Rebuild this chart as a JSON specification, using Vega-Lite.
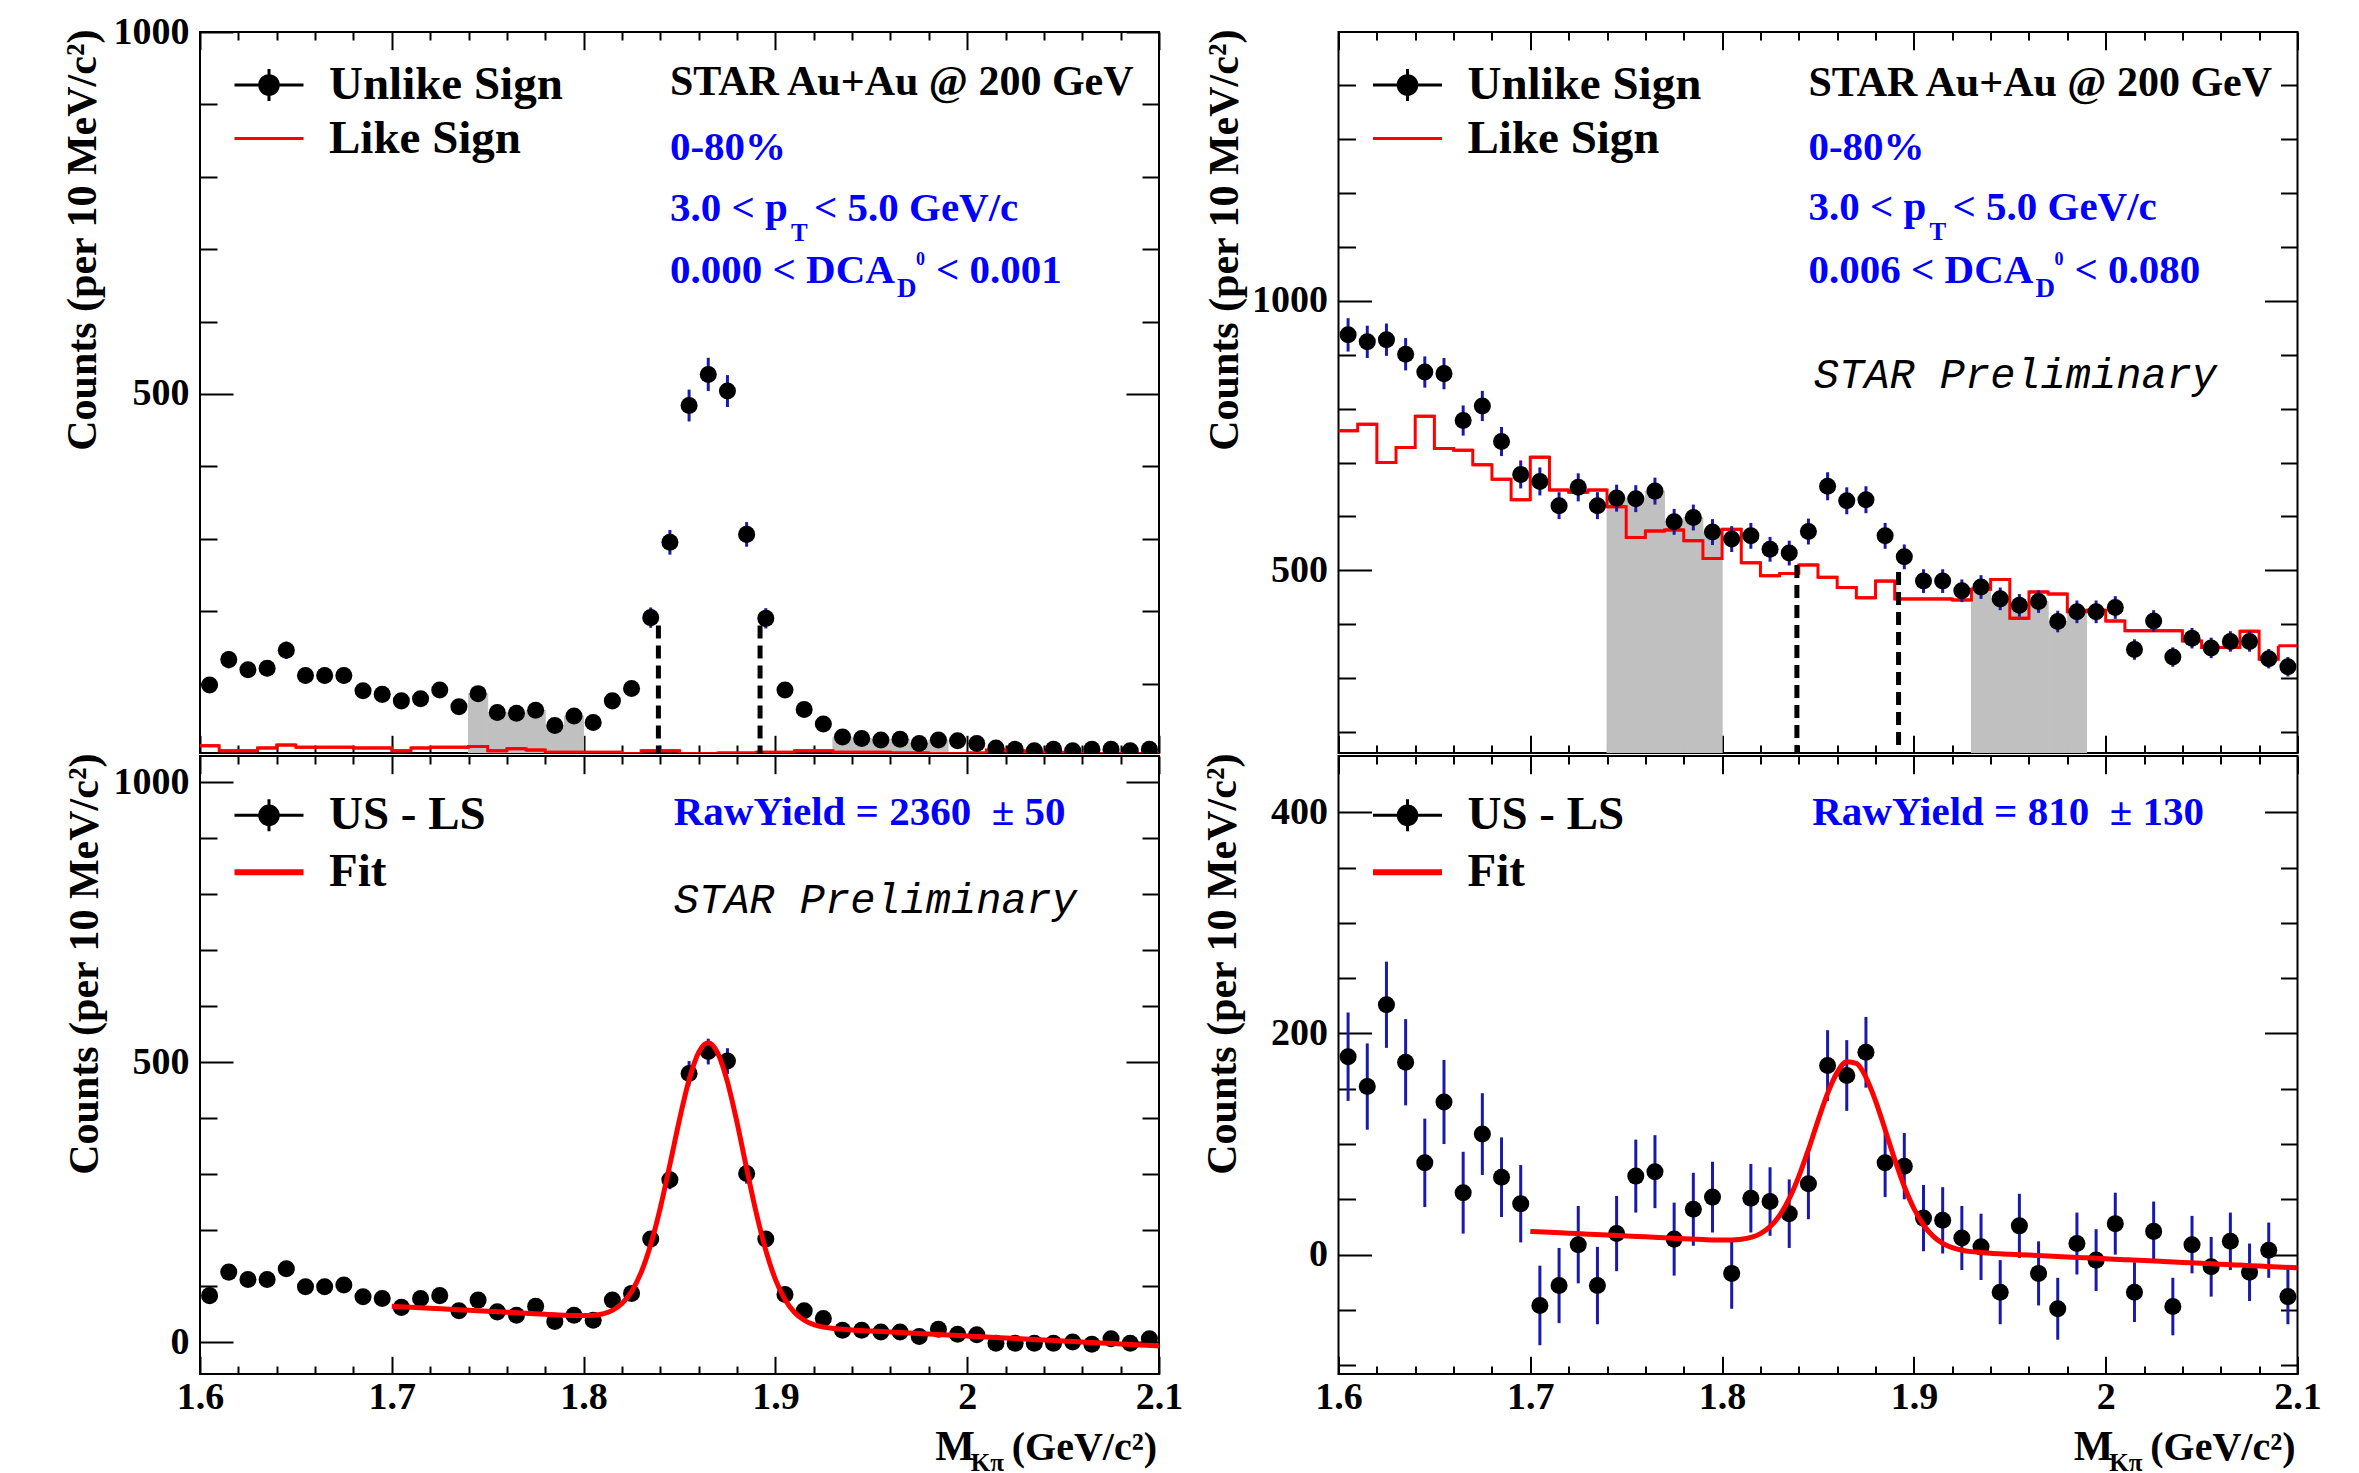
{
"$schema": "https://vega.github.io/schema/vega-lite/v6.json",
"background": "white",
"padding": {"left": 59, "top": 12, "right": 0, "bottom": 0},
"datasets": {
"tl": [
{"lo":1.60,"hi":1.61,"m":1.605,"us":98,"e":10,"ls":14},
{"lo":1.61,"hi":1.62,"m":1.615,"us":133,"e":12,"ls":7},
{"lo":1.62,"hi":1.63,"m":1.625,"us":119,"e":11,"ls":7},
{"lo":1.63,"hi":1.64,"m":1.635,"us":121,"e":11,"ls":11},
{"lo":1.64,"hi":1.65,"m":1.645,"us":146,"e":12,"ls":15},
{"lo":1.65,"hi":1.66,"m":1.655,"us":111,"e":11,"ls":12},
{"lo":1.66,"hi":1.67,"m":1.665,"us":111,"e":11,"ls":12},
{"lo":1.67,"hi":1.68,"m":1.675,"us":111,"e":11,"ls":12},
{"lo":1.68,"hi":1.69,"m":1.685,"us":90,"e":9,"ls":11},
{"lo":1.69,"hi":1.70,"m":1.695,"us":85,"e":9,"ls":11},
{"lo":1.70,"hi":1.71,"m":1.705,"us":76,"e":9,"ls":7},
{"lo":1.71,"hi":1.72,"m":1.715,"us":79,"e":9,"ls":11},
{"lo":1.72,"hi":1.73,"m":1.725,"us":91,"e":10,"ls":12},
{"lo":1.73,"hi":1.74,"m":1.735,"us":68,"e":8,"ls":12},
{"lo":1.74,"hi":1.75,"m":1.745,"us":86,"e":9,"ls":13},
{"lo":1.75,"hi":1.76,"m":1.755,"us":60,"e":8,"ls":7},
{"lo":1.76,"hi":1.77,"m":1.765,"us":59,"e":8,"ls":10},
{"lo":1.77,"hi":1.78,"m":1.775,"us":63,"e":8,"ls":8},
{"lo":1.78,"hi":1.79,"m":1.785,"us":42,"e":6,"ls":5},
{"lo":1.79,"hi":1.80,"m":1.795,"us":55,"e":7,"ls":5},
{"lo":1.80,"hi":1.81,"m":1.805,"us":46,"e":7,"ls":5},
{"lo":1.81,"hi":1.82,"m":1.815,"us":76,"e":9,"ls":5},
{"lo":1.82,"hi":1.83,"m":1.825,"us":93,"e":10,"ls":3},
{"lo":1.83,"hi":1.84,"m":1.835,"us":191,"e":14,"ls":7},
{"lo":1.84,"hi":1.85,"m":1.845,"us":295,"e":17,"ls":7},
{"lo":1.85,"hi":1.86,"m":1.855,"us":484,"e":22,"ls":3},
{"lo":1.86,"hi":1.87,"m":1.865,"us":527,"e":23,"ls":3},
{"lo":1.87,"hi":1.88,"m":1.875,"us":504,"e":22,"ls":4},
{"lo":1.88,"hi":1.89,"m":1.885,"us":306,"e":17,"ls":4},
{"lo":1.89,"hi":1.90,"m":1.895,"us":190,"e":14,"ls":5},
{"lo":1.90,"hi":1.91,"m":1.905,"us":91,"e":10,"ls":5},
{"lo":1.91,"hi":1.92,"m":1.915,"us":64,"e":8,"ls":7},
{"lo":1.92,"hi":1.93,"m":1.925,"us":44,"e":7,"ls":7},
{"lo":1.93,"hi":1.94,"m":1.935,"us":26,"e":5,"ls":5},
{"lo":1.94,"hi":1.95,"m":1.945,"us":24,"e":5,"ls":5},
{"lo":1.95,"hi":1.96,"m":1.955,"us":22,"e":5,"ls":5},
{"lo":1.96,"hi":1.97,"m":1.965,"us":23,"e":5,"ls":4},
{"lo":1.97,"hi":1.98,"m":1.975,"us":17,"e":4,"ls":4},
{"lo":1.98,"hi":1.99,"m":1.985,"us":22,"e":5,"ls":3},
{"lo":1.99,"hi":2.00,"m":1.995,"us":21,"e":5,"ls":3},
{"lo":2.00,"hi":2.01,"m":2.005,"us":17,"e":4,"ls":4},
{"lo":2.01,"hi":2.02,"m":2.015,"us":11,"e":3,"ls":8},
{"lo":2.02,"hi":2.03,"m":2.025,"us":9,"e":3,"ls":7},
{"lo":2.03,"hi":2.04,"m":2.035,"us":7,"e":3,"ls":5},
{"lo":2.04,"hi":2.05,"m":2.045,"us":9,"e":3,"ls":5},
{"lo":2.05,"hi":2.06,"m":2.055,"us":7,"e":3,"ls":3},
{"lo":2.06,"hi":2.07,"m":2.065,"us":9,"e":3,"ls":3},
{"lo":2.07,"hi":2.08,"m":2.075,"us":9,"e":3,"ls":3},
{"lo":2.08,"hi":2.09,"m":2.085,"us":7,"e":3,"ls":3},
{"lo":2.09,"hi":2.10,"m":2.095,"us":9,"e":3,"ls":3}
],
"tr": [
{"lo":1.60,"hi":1.61,"m":1.605,"us":937,"e":31,"ls":759},
{"lo":1.61,"hi":1.62,"m":1.615,"us":924,"e":30,"ls":771},
{"lo":1.62,"hi":1.63,"m":1.625,"us":928,"e":30,"ls":700},
{"lo":1.63,"hi":1.64,"m":1.635,"us":901,"e":30,"ls":728},
{"lo":1.64,"hi":1.65,"m":1.645,"us":868,"e":29,"ls":786},
{"lo":1.65,"hi":1.66,"m":1.655,"us":865,"e":29,"ls":726},
{"lo":1.66,"hi":1.67,"m":1.665,"us":778,"e":28,"ls":723},
{"lo":1.67,"hi":1.68,"m":1.675,"us":805,"e":28,"ls":696},
{"lo":1.68,"hi":1.69,"m":1.685,"us":739,"e":27,"ls":669},
{"lo":1.69,"hi":1.70,"m":1.695,"us":678,"e":26,"ls":631},
{"lo":1.70,"hi":1.71,"m":1.705,"us":665,"e":26,"ls":710},
{"lo":1.71,"hi":1.72,"m":1.715,"us":620,"e":25,"ls":649},
{"lo":1.72,"hi":1.73,"m":1.725,"us":654,"e":26,"ls":645},
{"lo":1.73,"hi":1.74,"m":1.735,"us":620,"e":25,"ls":649},
{"lo":1.74,"hi":1.75,"m":1.745,"us":634,"e":25,"ls":618},
{"lo":1.75,"hi":1.76,"m":1.755,"us":633,"e":25,"ls":561},
{"lo":1.76,"hi":1.77,"m":1.765,"us":647,"e":25,"ls":573},
{"lo":1.77,"hi":1.78,"m":1.775,"us":590,"e":24,"ls":575},
{"lo":1.78,"hi":1.79,"m":1.785,"us":598,"e":24,"ls":555},
{"lo":1.79,"hi":1.80,"m":1.795,"us":571,"e":24,"ls":522},
{"lo":1.80,"hi":1.81,"m":1.805,"us":558,"e":24,"ls":576},
{"lo":1.81,"hi":1.82,"m":1.815,"us":564,"e":24,"ls":514},
{"lo":1.82,"hi":1.83,"m":1.825,"us":539,"e":23,"ls":490},
{"lo":1.83,"hi":1.84,"m":1.835,"us":532,"e":23,"ls":494},
{"lo":1.84,"hi":1.85,"m":1.845,"us":572,"e":24,"ls":510},
{"lo":1.85,"hi":1.86,"m":1.855,"us":656,"e":26,"ls":487},
{"lo":1.86,"hi":1.87,"m":1.865,"us":629,"e":25,"ls":468},
{"lo":1.87,"hi":1.88,"m":1.875,"us":631,"e":25,"ls":449},
{"lo":1.88,"hi":1.89,"m":1.885,"us":564,"e":24,"ls":480},
{"lo":1.89,"hi":1.90,"m":1.895,"us":525,"e":23,"ls":447},
{"lo":1.90,"hi":1.91,"m":1.905,"us":480,"e":22,"ls":447},
{"lo":1.91,"hi":1.92,"m":1.915,"us":480,"e":22,"ls":447},
{"lo":1.92,"hi":1.93,"m":1.925,"us":462,"e":21,"ls":445},
{"lo":1.93,"hi":1.94,"m":1.935,"us":469,"e":22,"ls":465},
{"lo":1.94,"hi":1.95,"m":1.945,"us":447,"e":21,"ls":483},
{"lo":1.95,"hi":1.96,"m":1.955,"us":435,"e":21,"ls":411},
{"lo":1.96,"hi":1.97,"m":1.965,"us":442,"e":21,"ls":460},
{"lo":1.97,"hi":1.98,"m":1.975,"us":405,"e":20,"ls":456},
{"lo":1.98,"hi":1.99,"m":1.985,"us":423,"e":21,"ls":423},
{"lo":1.99,"hi":2.00,"m":1.995,"us":423,"e":21,"ls":426},
{"lo":2.00,"hi":2.01,"m":2.005,"us":431,"e":21,"ls":406},
{"lo":2.01,"hi":2.02,"m":2.015,"us":353,"e":19,"ls":388},
{"lo":2.02,"hi":2.03,"m":2.025,"us":406,"e":20,"ls":388},
{"lo":2.03,"hi":2.04,"m":2.035,"us":339,"e":18,"ls":388},
{"lo":2.04,"hi":2.05,"m":2.045,"us":374,"e":19,"ls":369},
{"lo":2.05,"hi":2.06,"m":2.055,"us":356,"e":19,"ls":357},
{"lo":2.06,"hi":2.07,"m":2.065,"us":368,"e":19,"ls":357},
{"lo":2.07,"hi":2.08,"m":2.075,"us":368,"e":19,"ls":387},
{"lo":2.08,"hi":2.09,"m":2.085,"us":336,"e":18,"ls":335},
{"lo":2.09,"hi":2.10,"m":2.095,"us":321,"e":18,"ls":360}
],
"bl": [
{"m":1.605,"v":83,"e":10},{"m":1.615,"v":125,"e":12},{"m":1.625,"v":112,"e":11},{"m":1.635,"v":112,"e":11},{"m":1.645,"v":131,"e":13},
{"m":1.655,"v":99,"e":11},{"m":1.665,"v":99,"e":11},{"m":1.675,"v":102,"e":11},{"m":1.685,"v":81,"e":10},{"m":1.695,"v":78,"e":10},
{"m":1.705,"v":62,"e":9},{"m":1.715,"v":78,"e":10},{"m":1.725,"v":83,"e":10},{"m":1.735,"v":56,"e":9},{"m":1.745,"v":75,"e":10},
{"m":1.755,"v":54,"e":8},{"m":1.765,"v":48,"e":8},{"m":1.775,"v":64,"e":8},{"m":1.785,"v":37,"e":7},{"m":1.795,"v":48,"e":8},
{"m":1.805,"v":39,"e":7},{"m":1.815,"v":75,"e":9},{"m":1.825,"v":87,"e":10},{"m":1.835,"v":184,"e":14},{"m":1.845,"v":290,"e":17},
{"m":1.855,"v":480,"e":22},{"m":1.865,"v":519,"e":23},{"m":1.875,"v":502,"e":23},{"m":1.885,"v":301,"e":18},{"m":1.895,"v":184,"e":14},
{"m":1.905,"v":85,"e":10},{"m":1.915,"v":56,"e":9},{"m":1.925,"v":42,"e":7},{"m":1.935,"v":21,"e":6},{"m":1.945,"v":21,"e":6},
{"m":1.955,"v":18,"e":5},{"m":1.965,"v":18,"e":5},{"m":1.975,"v":10,"e":5},{"m":1.985,"v":23,"e":5},{"m":1.995,"v":14,"e":5},
{"m":2.005,"v":13,"e":5},{"m":2.015,"v":-2,"e":4},{"m":2.025,"v":-2,"e":4},{"m":2.035,"v":-2,"e":4},{"m":2.045,"v":-2,"e":4},
{"m":2.055,"v":0,"e":4},{"m":2.065,"v":-4,"e":4},{"m":2.075,"v":6,"e":4},{"m":2.085,"v":-2,"e":4},{"m":2.095,"v":6,"e":4}
],
"br": [
{"m":1.605,"v":179,"e":40},{"m":1.615,"v":152,"e":39},{"m":1.625,"v":226,"e":39},{"m":1.635,"v":174,"e":39},{"m":1.645,"v":83,"e":40},
{"m":1.655,"v":138,"e":38},{"m":1.665,"v":56,"e":37},{"m":1.675,"v":109,"e":37},{"m":1.685,"v":70,"e":36},{"m":1.695,"v":46,"e":35},
{"m":1.705,"v":-46,"e":36},{"m":1.715,"v":-28,"e":34},{"m":1.725,"v":9,"e":35},{"m":1.735,"v":-28,"e":35},{"m":1.745,"v":19,"e":34},
{"m":1.755,"v":71,"e":33},{"m":1.765,"v":75,"e":33},{"m":1.775,"v":14,"e":33},{"m":1.785,"v":41,"e":33},{"m":1.795,"v":52,"e":32},
{"m":1.805,"v":-17,"e":32},{"m":1.815,"v":51,"e":31},{"m":1.825,"v":48,"e":31},{"m":1.835,"v":37,"e":31},{"m":1.845,"v":64,"e":32},
{"m":1.855,"v":171,"e":32},{"m":1.865,"v":162,"e":32},{"m":1.875,"v":183,"e":32},{"m":1.885,"v":83,"e":31},{"m":1.895,"v":80,"e":30},
{"m":1.905,"v":33,"e":30},{"m":1.915,"v":31,"e":30},{"m":1.925,"v":15,"e":29},{"m":1.935,"v":7,"e":30},{"m":1.945,"v":-34,"e":29},
{"m":1.955,"v":26,"e":29},{"m":1.965,"v":-17,"e":29},{"m":1.975,"v":-49,"e":28},{"m":1.985,"v":10,"e":28},{"m":1.995,"v":-5,"e":28},
{"m":2.005,"v":28,"e":28},{"m":2.015,"v":-34,"e":27},{"m":2.025,"v":21,"e":27},{"m":2.035,"v":-47,"e":26},{"m":2.045,"v":9,"e":26},
{"m":2.055,"v":-11,"e":27},{"m":2.065,"v":12,"e":26},{"m":2.075,"v":-16,"e":26},{"m":2.085,"v":4,"e":25},{"m":2.095,"v":-38,"e":25}
],
"blfit": [
{"m":1.70,"f":64.0},{"m":1.71,"f":62.2},{"m":1.72,"f":60.5},{"m":1.73,"f":58.7},{"m":1.74,"f":56.9},{"m":1.75,"f":55.2},{"m":1.76,"f":53.4},{"m":1.77,"f":51.6},{"m":1.78,"f":49.8},{"m":1.79,"f":48.1},
{"m":1.80,"f":47.4},{"m":1.805,"f":48.0},{"m":1.81,"f":50.5},{"m":1.815,"f":56.6},{"m":1.82,"f":68.8},{"m":1.825,"f":90.2},{"m":1.83,"f":124.5},{"m":1.835,"f":174.4},{"m":1.84,"f":239.9},{"m":1.845,"f":317.1},
{"m":1.85,"f":397.5},{"m":1.855,"f":468.6},{"m":1.86,"f":517.7},{"m":1.865,"f":534.8},{"m":1.87,"f":515.9},{"m":1.875,"f":465.0},{"m":1.88,"f":392.2},{"m":1.885,"f":310.1},{"m":1.89,"f":231.1},{"m":1.895,"f":163.8},
{"m":1.90,"f":112.1},{"m":1.905,"f":76.0},{"m":1.91,"f":52.8},{"m":1.915,"f":39.0},{"m":1.92,"f":31.1},{"m":1.925,"f":26.8},{"m":1.93,"f":24.4},{"m":1.935,"f":22.8},{"m":1.94,"f":21.5},{"m":1.95,"f":19.8},
{"m":1.96,"f":18.0},{"m":1.97,"f":16.2},{"m":1.98,"f":14.4},{"m":1.99,"f":12.7},{"m":2.00,"f":10.9},{"m":2.01,"f":9.1},{"m":2.02,"f":7.4},{"m":2.03,"f":5.6},{"m":2.04,"f":3.8},{"m":2.05,"f":2.1},
{"m":2.06,"f":0.3},{"m":2.07,"f":-1.5},{"m":2.08,"f":-3.3},{"m":2.09,"f":-5.0},{"m":2.10,"f":-6.8}
],
"brfit": [
{"m":1.70,"f":21.0},{"m":1.71,"f":20.2},{"m":1.72,"f":19.35},{"m":1.73,"f":18.5},{"m":1.74,"f":17.7},{"m":1.75,"f":16.9},{"m":1.76,"f":16.05},{"m":1.77,"f":15.2},{"m":1.78,"f":14.4},{"m":1.79,"f":13.6},
{"m":1.80,"f":13.1},{"m":1.805,"f":13.1},{"m":1.81,"f":13.8},{"m":1.815,"f":15.5},{"m":1.82,"f":19.0},{"m":1.825,"f":25.3},{"m":1.83,"f":35.5},{"m":1.835,"f":50.6},{"m":1.84,"f":70.7},{"m":1.845,"f":94.9},
{"m":1.85,"f":121.2},{"m":1.855,"f":145.8},{"m":1.86,"f":164.8},{"m":1.865,"f":174.5},{"m":1.87,"f":172.9},{"m":1.875,"f":160.4},{"m":1.88,"f":139.1},{"m":1.885,"f":113.0},{"m":1.89,"f":86.0},{"m":1.895,"f":61.6},
{"m":1.90,"f":41.7},{"m":1.905,"f":26.8},{"m":1.91,"f":16.7},{"m":1.915,"f":10.2},{"m":1.92,"f":6.3},{"m":1.925,"f":4.0},{"m":1.93,"f":2.7},{"m":1.935,"f":1.9},{"m":1.94,"f":1.2},{"m":1.95,"f":0.4},
{"m":1.96,"f":-0.45},{"m":1.97,"f":-1.3},{"m":1.98,"f":-2.1},{"m":1.99,"f":-2.9},{"m":2.00,"f":-3.75},{"m":2.01,"f":-4.6},{"m":2.02,"f":-5.4},{"m":2.03,"f":-6.2},{"m":2.04,"f":-7.05},{"m":2.05,"f":-7.9},
{"m":2.06,"f":-8.7},{"m":2.07,"f":-9.5},{"m":2.08,"f":-10.35},{"m":2.09,"f":-11.2},{"m":2.10,"f":-12.0}
],
"tlcut": [{"m":1.839,"top":180},{"m":1.892,"top":180}],
"trcut": [{"m":1.839,"top":510},{"m":1.892,"top":497}]
},
"columns": 2,
"spacing": {"row": 3, "column": 179.5},
"bounds": "flush",
"align": "each",
"resolve": {"scale": {"color": "independent"}, "legend": {"color": "independent"}},
"concat": [
{
"width": 959, "height": 721,
"data": {"name": "tl"},
"resolve": {"axis": {"x": "independent", "y": "independent"}},
"layer": [
{"layer": [
{"mark": {"type": "point", "opacity": 0},
 "encoding": {
  "x": {"field": "m", "type": "quantitative", "scale": {"domain": [1.6, 2.1], "nice": false, "zero": false},
        "axis": {"orient": "bottom", "values": [1.6,1.7,1.8,1.9,2.0,2.1], "labels": false, "tickSize": -17.7, "title": null}},
  "y": {"field": "us", "type": "quantitative", "title": "Counts (per 10 MeV/c²)", "scale": {"domain": [4, 1000], "nice": false, "zero": false},
        "axis": {"orient": "left", "values": [500, 1000], "tickSize": -33, "labelPadding": 44, "format": "d",
                 "title": "Counts (per 10 MeV/c²)", "titleX": -105, "titleY": -3, "titleAngle": -90, "titleAlign": "right", "titleBaseline": "alphabetic"}}
 }},
{"mark": {"type": "bar", "color": "#c0c0c0", "stroke": "#c0c0c0", "strokeWidth": 1, "clip": true},
 "transform": [{"filter": "(datum.lo > 1.735 && datum.lo < 1.795) || (datum.lo > 1.925 && datum.lo < 1.985)"}],
 "encoding": {"x": {"field": "lo", "type": "quantitative"}, "x2": {"field": "hi"}, "y": {"field": "us", "type": "quantitative", "title": "Counts (per 10 MeV/c²)"}, "y2": {"datum": 0}}},
{"mark": {"type": "rule", "color": "red", "strokeWidth": 3, "clip": true},
 "encoding": {"x": {"field": "lo", "type": "quantitative"}, "x2": {"field": "hi"}, "y": {"field": "ls", "type": "quantitative", "title": "Counts (per 10 MeV/c²)"}}},
{"mark": {"type": "line", "interpolate": "step-after", "strokeWidth": 3, "clip": true},
 "encoding": {"x": {"field": "lo", "type": "quantitative"}, "y": {"field": "ls", "type": "quantitative", "title": "Counts (per 10 MeV/c²)"},
  "color": {"datum": "Like Sign", "scale": {"domain": ["Unlike Sign", "Like Sign"], "range": ["black", "red"]},
   "legend": {"orient": "none", "legendX": 45.5, "legendY": 29.5, "title": null, "padding": 0, "rowPadding": 5.5, "labelFont": "Liberation Serif", "labelFontWeight": "bold", "labelFontSize": 47, "labelColor": "black", "labelOffset": 36.5, "labelLimit": 600, "symbolSize": 900, "symbolStrokeWidth": 3,
    "encode": {"symbols": {"update": {
     "shape": {"signal": "(datum.value === 'Like Sign' || datum.value === 'Fit') ? 'M-2.3,0H2.3' : 'M-2.3,0H-0.62M0.62,0H2.3M0,-1.07V-0.62M0,0.62V1.07M0.62,0A0.62,0.62,0,1,1,-0.62,0A0.62,0.62,0,1,1,0.62,0Z'"},
     "fill": {"signal": "(datum.value === 'Like Sign' || datum.value === 'Fit') ? 'transparent' : 'black'"},
     "stroke": {"signal": "(datum.value === 'Like Sign' || datum.value === 'Fit') ? 'red' : '#1a1aaa'"},
     "strokeWidth": {"signal": "datum.value === 'Fit' ? 6 : 3"},
     "size": {"value": 900}, "opacity": {"value": 1}}}}}}}},
{"data": {"name": "tlcut"}, "mark": {"type": "rule", "color": "black", "strokeWidth": 5, "strokeDash": [13, 7], "clip": true},
 "encoding": {"x": {"field": "m", "type": "quantitative"}, "y": {"field": "top", "type": "quantitative", "title": "Counts (per 10 MeV/c²)"}, "y2": {"datum": 0}}},
{"mark": {"type": "errorbar", "color": "#1a1aaa", "thickness": 3},
 "encoding": {"x": {"field": "m", "type": "quantitative"}, "y": {"field": "us", "type": "quantitative", "title": "Counts (per 10 MeV/c²)"}, "yError": {"field": "e"}}},
{"mark": {"type": "point", "filled": true, "size": 290, "opacity": 1, "clip": true},
 "encoding": {"x": {"field": "m", "type": "quantitative"}, "y": {"field": "us", "type": "quantitative", "title": "Counts (per 10 MeV/c²)"},
  "color": {"datum": "Unlike Sign", "scale": {"domain": ["Unlike Sign", "Like Sign"], "range": ["black", "red"]},
   "legend": {"orient": "none", "legendX": 45.5, "legendY": 29.5, "title": null, "padding": 0, "rowPadding": 5.5, "labelFont": "Liberation Serif", "labelFontWeight": "bold", "labelFontSize": 47, "labelColor": "black", "labelOffset": 36.5, "labelLimit": 600, "symbolSize": 900, "symbolStrokeWidth": 3,
    "encode": {"symbols": {"update": {
     "shape": {"signal": "(datum.value === 'Like Sign' || datum.value === 'Fit') ? 'M-2.3,0H2.3' : 'M-2.3,0H-0.62M0.62,0H2.3M0,-1.07V-0.62M0,0.62V1.07M0.62,0A0.62,0.62,0,1,1,-0.62,0A0.62,0.62,0,1,1,0.62,0Z'"},
     "fill": {"signal": "(datum.value === 'Like Sign' || datum.value === 'Fit') ? 'transparent' : 'black'"},
     "stroke": {"signal": "(datum.value === 'Like Sign' || datum.value === 'Fit') ? 'red' : '#1a1aaa'"},
     "strokeWidth": {"signal": "datum.value === 'Fit' ? 6 : 3"},
     "size": {"value": 900}, "opacity": {"value": 1}}}}}}}},
{"data": {"values": [{}]}, "mark": {"type": "text", "align": "left", "baseline": "alphabetic", "font": "Liberation Serif", "fontWeight": "bold", "fontSize": 42, "color": "black"},
 "encoding": {"x": {"datum": 1.845, "type": "quantitative"}, "y": {"datum": 912.3, "type": "quantitative"}, "text": {"value": "STAR Au+Au @ 200 GeV"}}},
{"data": {"values": [{}]}, "mark": {"type": "text", "align": "left", "baseline": "alphabetic", "font": "Liberation Serif", "fontWeight": "bold", "fontSize": 41, "color": "#0000ff"},
 "encoding": {"x": {"datum": 1.845, "type": "quantitative"}, "y": {"datum": 822.5, "type": "quantitative"}, "text": {"value": "0-80%"}}},
{"data": {"values": [{}]}, "mark": {"type": "text", "align": "left", "baseline": "alphabetic", "font": "Liberation Serif", "fontWeight": "bold", "fontSize": 41, "color": "#0000ff"},
 "encoding": {"x": {"datum": 1.845, "type": "quantitative"}, "y": {"datum": 739.6, "type": "quantitative"}, "text": {"value": "3.0 < p"}}},
{"data": {"values": [{}]}, "mark": {"type": "text", "align": "left", "baseline": "alphabetic", "font": "Liberation Serif", "fontWeight": "bold", "fontSize": 25, "color": "#0000ff", "dx": 121, "dy": 20},
 "encoding": {"x": {"datum": 1.845, "type": "quantitative"}, "y": {"datum": 739.6, "type": "quantitative"}, "text": {"value": "T"}}},
{"data": {"values": [{}]}, "mark": {"type": "text", "align": "left", "baseline": "alphabetic", "font": "Liberation Serif", "fontWeight": "bold", "fontSize": 41, "color": "#0000ff", "dx": 144},
 "encoding": {"x": {"datum": 1.845, "type": "quantitative"}, "y": {"datum": 739.6, "type": "quantitative"}, "text": {"value": "< 5.0 GeV/c"}}},
{"data": {"values": [{}]}, "mark": {"type": "text", "align": "left", "baseline": "alphabetic", "font": "Liberation Serif", "fontWeight": "bold", "fontSize": 41, "color": "#0000ff"},
 "encoding": {"x": {"datum": 1.845, "type": "quantitative"}, "y": {"datum": 652.6, "type": "quantitative"}, "text": {"value": "0.000 < DCA"}}},
{"data": {"values": [{}]}, "mark": {"type": "text", "align": "left", "baseline": "alphabetic", "font": "Liberation Serif", "fontWeight": "bold", "fontSize": 27, "color": "#0000ff", "dx": 227, "dy": 14},
 "encoding": {"x": {"datum": 1.845, "type": "quantitative"}, "y": {"datum": 652.6, "type": "quantitative"}, "text": {"value": "D"}}},
{"data": {"values": [{}]}, "mark": {"type": "text", "align": "left", "baseline": "alphabetic", "font": "Liberation Serif", "fontWeight": "bold", "fontSize": 18, "color": "#0000ff", "dx": 246, "dy": -18},
 "encoding": {"x": {"datum": 1.845, "type": "quantitative"}, "y": {"datum": 652.6, "type": "quantitative"}, "text": {"value": "0"}}},
{"data": {"values": [{}]}, "mark": {"type": "text", "align": "left", "baseline": "alphabetic", "font": "Liberation Serif", "fontWeight": "bold", "fontSize": 41, "color": "#0000ff", "dx": 266},
 "encoding": {"x": {"datum": 1.845, "type": "quantitative"}, "y": {"datum": 652.6, "type": "quantitative"}, "text": {"value": "< 0.001"}}}
]},
{"mark": {"type": "point", "opacity": 0},
 "encoding": {"x": {"field": "m", "type": "quantitative", "scale": {"domain": [1.6, 2.1], "nice": false, "zero": false}, "axis": {"orient": "top", "values": [1.6,1.7,1.8,1.9,2.0,2.1], "labels": false, "tickSize": -17.7, "title": null}},
  "y": {"field": "us", "type": "quantitative", "scale": {"domain": [4, 1000], "nice": false, "zero": false}, "axis": {"orient": "right", "values": [500, 1000], "labels": false, "tickSize": -33, "title": null}}}},
{"mark": {"type": "point", "opacity": 0},
 "encoding": {"x": {"field": "m", "type": "quantitative", "scale": {"domain": [1.6, 2.1], "nice": false, "zero": false}, "axis": {"orient": "bottom", "values": [1.62,1.64,1.66,1.68,1.72,1.74,1.76,1.78,1.82,1.84,1.86,1.88,1.92,1.94,1.96,1.98,2.02,2.04,2.06,2.08], "labels": false, "tickSize": -8, "title": null}},
  "y": {"field": "us", "type": "quantitative", "scale": {"domain": [4, 1000], "nice": false, "zero": false}, "axis": {"orient": "left", "values": [100,200,300,400,600,700,800,900], "labels": false, "tickSize": -17, "title": null}}}},
{"mark": {"type": "point", "opacity": 0},
 "encoding": {"x": {"field": "m", "type": "quantitative", "scale": {"domain": [1.6, 2.1], "nice": false, "zero": false}, "axis": {"orient": "top", "values": [1.62,1.64,1.66,1.68,1.72,1.74,1.76,1.78,1.82,1.84,1.86,1.88,1.92,1.94,1.96,1.98,2.02,2.04,2.06,2.08], "labels": false, "tickSize": -8, "title": null}},
  "y": {"field": "us", "type": "quantitative", "scale": {"domain": [4, 1000], "nice": false, "zero": false}, "axis": {"orient": "right", "values": [100,200,300,400,600,700,800,900], "labels": false, "tickSize": -17, "title": null}}}}
]
},
{
"width": 959, "height": 721,
"data": {"name": "tr"},
"resolve": {"axis": {"x": "independent", "y": "independent"}},
"layer": [
{"layer": [
{"mark": {"type": "point", "opacity": 0},
 "encoding": {
  "x": {"field": "m", "type": "quantitative", "scale": {"domain": [1.6, 2.1], "nice": false, "zero": false},
        "axis": {"orient": "bottom", "values": [1.6,1.7,1.8,1.9,2.0,2.1], "labels": false, "tickSize": -17.7, "title": null}},
  "y": {"field": "us", "type": "quantitative", "title": "Counts (per 10 MeV/c²)", "scale": {"domain": [161, 1499], "nice": false, "zero": false},
        "axis": {"orient": "left", "values": [500, 1000], "tickSize": -33, "labelPadding": 44, "format": "d",
                 "title": "Counts (per 10 MeV/c²)", "titleX": -101, "titleY": -3, "titleAngle": -90, "titleAlign": "right", "titleBaseline": "alphabetic"}}
 }},
{"mark": {"type": "bar", "color": "#c0c0c0", "stroke": "#c0c0c0", "strokeWidth": 1, "clip": true},
 "transform": [{"filter": "(datum.lo > 1.735 && datum.lo < 1.795) || (datum.lo > 1.925 && datum.lo < 1.985)"}],
 "encoding": {"x": {"field": "lo", "type": "quantitative"}, "x2": {"field": "hi"}, "y": {"field": "us", "type": "quantitative", "title": "Counts (per 10 MeV/c²)"}, "y2": {"datum": 0}}},
{"mark": {"type": "rule", "color": "red", "strokeWidth": 3, "clip": true},
 "encoding": {"x": {"field": "lo", "type": "quantitative"}, "x2": {"field": "hi"}, "y": {"field": "ls", "type": "quantitative", "title": "Counts (per 10 MeV/c²)"}}},
{"mark": {"type": "line", "interpolate": "step-after", "strokeWidth": 3, "clip": true},
 "encoding": {"x": {"field": "lo", "type": "quantitative"}, "y": {"field": "ls", "type": "quantitative", "title": "Counts (per 10 MeV/c²)"},
  "color": {"datum": "Like Sign", "scale": {"domain": ["Unlike Sign", "Like Sign"], "range": ["black", "red"]},
   "legend": {"orient": "none", "legendX": 45.5, "legendY": 29.5, "title": null, "padding": 0, "rowPadding": 5.5, "labelFont": "Liberation Serif", "labelFontWeight": "bold", "labelFontSize": 47, "labelColor": "black", "labelOffset": 36.5, "labelLimit": 600, "symbolSize": 900, "symbolStrokeWidth": 3,
    "encode": {"symbols": {"update": {
     "shape": {"signal": "(datum.value === 'Like Sign' || datum.value === 'Fit') ? 'M-2.3,0H2.3' : 'M-2.3,0H-0.62M0.62,0H2.3M0,-1.07V-0.62M0,0.62V1.07M0.62,0A0.62,0.62,0,1,1,-0.62,0A0.62,0.62,0,1,1,0.62,0Z'"},
     "fill": {"signal": "(datum.value === 'Like Sign' || datum.value === 'Fit') ? 'transparent' : 'black'"},
     "stroke": {"signal": "(datum.value === 'Like Sign' || datum.value === 'Fit') ? 'red' : '#1a1aaa'"},
     "strokeWidth": {"signal": "datum.value === 'Fit' ? 6 : 3"},
     "size": {"value": 900}, "opacity": {"value": 1}}}}}}}},
{"data": {"name": "trcut"}, "mark": {"type": "rule", "color": "black", "strokeWidth": 5, "strokeDash": [13, 7], "clip": true},
 "encoding": {"x": {"field": "m", "type": "quantitative"}, "y": {"field": "top", "type": "quantitative", "title": "Counts (per 10 MeV/c²)"}, "y2": {"datum": 0}}},
{"mark": {"type": "errorbar", "color": "#1a1aaa", "thickness": 3},
 "encoding": {"x": {"field": "m", "type": "quantitative"}, "y": {"field": "us", "type": "quantitative", "title": "Counts (per 10 MeV/c²)"}, "yError": {"field": "e"}}},
{"mark": {"type": "point", "filled": true, "size": 290, "opacity": 1, "clip": true},
 "encoding": {"x": {"field": "m", "type": "quantitative"}, "y": {"field": "us", "type": "quantitative", "title": "Counts (per 10 MeV/c²)"},
  "color": {"datum": "Unlike Sign", "scale": {"domain": ["Unlike Sign", "Like Sign"], "range": ["black", "red"]},
   "legend": {"orient": "none", "legendX": 45.5, "legendY": 29.5, "title": null, "padding": 0, "rowPadding": 5.5, "labelFont": "Liberation Serif", "labelFontWeight": "bold", "labelFontSize": 47, "labelColor": "black", "labelOffset": 36.5, "labelLimit": 600, "symbolSize": 900, "symbolStrokeWidth": 3,
    "encode": {"symbols": {"update": {
     "shape": {"signal": "(datum.value === 'Like Sign' || datum.value === 'Fit') ? 'M-2.3,0H2.3' : 'M-2.3,0H-0.62M0.62,0H2.3M0,-1.07V-0.62M0,0.62V1.07M0.62,0A0.62,0.62,0,1,1,-0.62,0A0.62,0.62,0,1,1,0.62,0Z'"},
     "fill": {"signal": "(datum.value === 'Like Sign' || datum.value === 'Fit') ? 'transparent' : 'black'"},
     "stroke": {"signal": "(datum.value === 'Like Sign' || datum.value === 'Fit') ? 'red' : '#1a1aaa'"},
     "strokeWidth": {"signal": "datum.value === 'Fit' ? 6 : 3"},
     "size": {"value": 900}, "opacity": {"value": 1}}}}}}}},
{"data": {"values": [{}]}, "mark": {"type": "text", "align": "left", "baseline": "alphabetic", "font": "Liberation Serif", "fontWeight": "bold", "fontSize": 42, "color": "black"},
 "encoding": {"x": {"datum": 1.845, "type": "quantitative"}, "y": {"datum": 1381, "type": "quantitative"}, "text": {"value": "STAR Au+Au @ 200 GeV"}}},
{"data": {"values": [{}]}, "mark": {"type": "text", "align": "left", "baseline": "alphabetic", "font": "Liberation Serif", "fontWeight": "bold", "fontSize": 41, "color": "#0000ff"},
 "encoding": {"x": {"datum": 1.845, "type": "quantitative"}, "y": {"datum": 1260.6, "type": "quantitative"}, "text": {"value": "0-80%"}}},
{"data": {"values": [{}]}, "mark": {"type": "text", "align": "left", "baseline": "alphabetic", "font": "Liberation Serif", "fontWeight": "bold", "fontSize": 41, "color": "#0000ff"},
 "encoding": {"x": {"datum": 1.845, "type": "quantitative"}, "y": {"datum": 1149.2, "type": "quantitative"}, "text": {"value": "3.0 < p"}}},
{"data": {"values": [{}]}, "mark": {"type": "text", "align": "left", "baseline": "alphabetic", "font": "Liberation Serif", "fontWeight": "bold", "fontSize": 25, "color": "#0000ff", "dx": 121, "dy": 20},
 "encoding": {"x": {"datum": 1.845, "type": "quantitative"}, "y": {"datum": 1149.2, "type": "quantitative"}, "text": {"value": "T"}}},
{"data": {"values": [{}]}, "mark": {"type": "text", "align": "left", "baseline": "alphabetic", "font": "Liberation Serif", "fontWeight": "bold", "fontSize": 41, "color": "#0000ff", "dx": 144},
 "encoding": {"x": {"datum": 1.845, "type": "quantitative"}, "y": {"datum": 1149.2, "type": "quantitative"}, "text": {"value": "< 5.0 GeV/c"}}},
{"data": {"values": [{}]}, "mark": {"type": "text", "align": "left", "baseline": "alphabetic", "font": "Liberation Serif", "fontWeight": "bold", "fontSize": 41, "color": "#0000ff"},
 "encoding": {"x": {"datum": 1.845, "type": "quantitative"}, "y": {"datum": 1032.3, "type": "quantitative"}, "text": {"value": "0.006 < DCA"}}},
{"data": {"values": [{}]}, "mark": {"type": "text", "align": "left", "baseline": "alphabetic", "font": "Liberation Serif", "fontWeight": "bold", "fontSize": 27, "color": "#0000ff", "dx": 227, "dy": 14},
 "encoding": {"x": {"datum": 1.845, "type": "quantitative"}, "y": {"datum": 1032.3, "type": "quantitative"}, "text": {"value": "D"}}},
{"data": {"values": [{}]}, "mark": {"type": "text", "align": "left", "baseline": "alphabetic", "font": "Liberation Serif", "fontWeight": "bold", "fontSize": 18, "color": "#0000ff", "dx": 246, "dy": -18},
 "encoding": {"x": {"datum": 1.845, "type": "quantitative"}, "y": {"datum": 1032.3, "type": "quantitative"}, "text": {"value": "0"}}},
{"data": {"values": [{}]}, "mark": {"type": "text", "align": "left", "baseline": "alphabetic", "font": "Liberation Serif", "fontWeight": "bold", "fontSize": 41, "color": "#0000ff", "dx": 266},
 "encoding": {"x": {"datum": 1.845, "type": "quantitative"}, "y": {"datum": 1032.3, "type": "quantitative"}, "text": {"value": "< 0.080"}}},
{"data": {"values": [{}]}, "mark": {"type": "text", "align": "left", "baseline": "alphabetic", "font": "Liberation Mono", "fontStyle": "italic", "fontWeight": "normal", "fontSize": 42, "color": "black"},
 "encoding": {"x": {"datum": 1.8478, "type": "quantitative"}, "y": {"datum": 837.8, "type": "quantitative"}, "text": {"value": "STAR Preliminary"}}}
]},
{"mark": {"type": "point", "opacity": 0},
 "encoding": {"x": {"field": "m", "type": "quantitative", "scale": {"domain": [1.6, 2.1], "nice": false, "zero": false}, "axis": {"orient": "top", "values": [1.6,1.7,1.8,1.9,2.0,2.1], "labels": false, "tickSize": -17.7, "title": null}},
  "y": {"field": "us", "type": "quantitative", "scale": {"domain": [161, 1499], "nice": false, "zero": false}, "axis": {"orient": "right", "values": [500, 1000], "labels": false, "tickSize": -33, "title": null}}}},
{"mark": {"type": "point", "opacity": 0},
 "encoding": {"x": {"field": "m", "type": "quantitative", "scale": {"domain": [1.6, 2.1], "nice": false, "zero": false}, "axis": {"orient": "bottom", "values": [1.62,1.64,1.66,1.68,1.72,1.74,1.76,1.78,1.82,1.84,1.86,1.88,1.92,1.94,1.96,1.98,2.02,2.04,2.06,2.08], "labels": false, "tickSize": -8, "title": null}},
  "y": {"field": "us", "type": "quantitative", "scale": {"domain": [161, 1499], "nice": false, "zero": false}, "axis": {"orient": "left", "values": [200,300,400,600,700,800,900,1100,1200,1300,1400], "labels": false, "tickSize": -17, "title": null}}}},
{"mark": {"type": "point", "opacity": 0},
 "encoding": {"x": {"field": "m", "type": "quantitative", "scale": {"domain": [1.6, 2.1], "nice": false, "zero": false}, "axis": {"orient": "top", "values": [1.62,1.64,1.66,1.68,1.72,1.74,1.76,1.78,1.82,1.84,1.86,1.88,1.92,1.94,1.96,1.98,2.02,2.04,2.06,2.08], "labels": false, "tickSize": -8, "title": null}},
  "y": {"field": "us", "type": "quantitative", "scale": {"domain": [161, 1499], "nice": false, "zero": false}, "axis": {"orient": "right", "values": [200,300,400,600,700,800,900,1100,1200,1300,1400], "labels": false, "tickSize": -17, "title": null}}}}
]
},
{
"width": 959, "height": 618,
"data": {"name": "bl"},
"resolve": {"axis": {"x": "independent", "y": "independent"}},
"layer": [
{"layer": [
{"mark": {"type": "point", "opacity": 0},
 "encoding": {
  "x": {"field": "m", "type": "quantitative", "scale": {"domain": [1.6, 2.1], "nice": false, "zero": false},
        "axis": {"orient": "bottom", "values": [1.6,1.7,1.8,1.9,2.0,2.1], "labels": true, "format": "~g", "tickSize": -17.7, "labelPadding": 22, "title": null}},
  "y": {"field": "v", "type": "quantitative", "title": "Counts (per 10 MeV/c²)", "scale": {"domain": [-57, 1047], "nice": false, "zero": false},
        "axis": {"orient": "left", "values": [0, 500, 1000], "tickSize": -33, "labelPadding": 44, "format": "d",
                 "title": "Counts (per 10 MeV/c²)", "titleX": -103, "titleY": -3, "titleAngle": -90, "titleAlign": "right", "titleBaseline": "alphabetic"}}
 }},
{"mark": {"type": "errorbar", "color": "#1a1aaa", "thickness": 3},
 "encoding": {"x": {"field": "m", "type": "quantitative"}, "y": {"field": "v", "type": "quantitative", "title": "Counts (per 10 MeV/c²)"}, "yError": {"field": "e"}}},
{"mark": {"type": "point", "filled": true, "size": 290, "opacity": 1, "clip": true},
 "encoding": {"x": {"field": "m", "type": "quantitative"}, "y": {"field": "v", "type": "quantitative", "title": "Counts (per 10 MeV/c²)"},
  "color": {"datum": "US - LS", "scale": {"domain": ["US - LS", "Fit"], "range": ["black", "red"]},
   "legend": {"orient": "none", "legendX": 45.5, "legendY": 35.8, "title": null, "padding": 0, "rowPadding": 9, "labelFont": "Liberation Serif", "labelFontWeight": "bold", "labelFontSize": 47, "labelColor": "black", "labelOffset": 36.5, "labelLimit": 600, "symbolSize": 900, "symbolStrokeWidth": 3,
    "encode": {"symbols": {"update": {
     "shape": {"signal": "(datum.value === 'Like Sign' || datum.value === 'Fit') ? 'M-2.3,0H2.3' : 'M-2.3,0H-0.62M0.62,0H2.3M0,-1.07V-0.62M0,0.62V1.07M0.62,0A0.62,0.62,0,1,1,-0.62,0A0.62,0.62,0,1,1,0.62,0Z'"},
     "fill": {"signal": "(datum.value === 'Like Sign' || datum.value === 'Fit') ? 'transparent' : 'black'"},
     "stroke": {"signal": "(datum.value === 'Like Sign' || datum.value === 'Fit') ? 'red' : '#1a1aaa'"},
     "strokeWidth": {"signal": "datum.value === 'Fit' ? 6 : 3"},
     "size": {"value": 900}, "opacity": {"value": 1}}}}}}}},
{"data": {"name": "blfit"}, "mark": {"type": "line", "strokeWidth": 5, "interpolate": "monotone", "clip": true},
 "encoding": {"x": {"field": "m", "type": "quantitative"}, "y": {"field": "f", "type": "quantitative", "title": "Counts (per 10 MeV/c²)"},
  "color": {"datum": "Fit", "scale": {"domain": ["US - LS", "Fit"], "range": ["black", "red"]},
   "legend": {"orient": "none", "legendX": 45.5, "legendY": 35.8, "title": null, "padding": 0, "rowPadding": 9, "labelFont": "Liberation Serif", "labelFontWeight": "bold", "labelFontSize": 47, "labelColor": "black", "labelOffset": 36.5, "labelLimit": 600, "symbolSize": 900, "symbolStrokeWidth": 3,
    "encode": {"symbols": {"update": {
     "shape": {"signal": "(datum.value === 'Like Sign' || datum.value === 'Fit') ? 'M-2.3,0H2.3' : 'M-2.3,0H-0.62M0.62,0H2.3M0,-1.07V-0.62M0,0.62V1.07M0.62,0A0.62,0.62,0,1,1,-0.62,0A0.62,0.62,0,1,1,0.62,0Z'"},
     "fill": {"signal": "(datum.value === 'Like Sign' || datum.value === 'Fit') ? 'transparent' : 'black'"},
     "stroke": {"signal": "(datum.value === 'Like Sign' || datum.value === 'Fit') ? 'red' : '#1a1aaa'"},
     "strokeWidth": {"signal": "datum.value === 'Fit' ? 6 : 3"},
     "size": {"value": 900}, "opacity": {"value": 1}}}}}}}},
{"data": {"values": [{}]}, "mark": {"type": "text", "align": "left", "baseline": "alphabetic", "font": "Liberation Serif", "fontWeight": "bold", "fontSize": 41, "color": "#0000ff"},
 "encoding": {"x": {"datum": 1.847, "type": "quantitative"}, "y": {"datum": 924, "type": "quantitative"}, "text": {"value": "RawYield = 2360 \u00a0± 50"}}},
{"data": {"values": [{}]}, "mark": {"type": "text", "align": "left", "baseline": "alphabetic", "font": "Liberation Mono", "fontStyle": "italic", "fontWeight": "normal", "fontSize": 42, "color": "black"},
 "encoding": {"x": {"datum": 1.847, "type": "quantitative"}, "y": {"datum": 766.5, "type": "quantitative"}, "text": {"value": "STAR Preliminary"}}},
{"data": {"values": [{}]}, "mark": {"type": "text", "align": "right", "baseline": "alphabetic", "font": "Liberation Serif", "fontWeight": "bold", "fontSize": 40, "color": "black", "dx": -2},
 "encoding": {"x": {"datum": 2.1, "type": "quantitative"}, "y": {"datum": -211.5, "type": "quantitative"}, "text": {"value": "(GeV/c²)"}}},
{"data": {"values": [{}]}, "mark": {"type": "text", "align": "right", "baseline": "alphabetic", "font": "Liberation Serif", "fontWeight": "bold", "fontSize": 25, "color": "black", "dx": -155, "dy": 11},
 "encoding": {"x": {"datum": 2.1, "type": "quantitative"}, "y": {"datum": -211.5, "type": "quantitative"}, "text": {"value": "Kπ"}}},
{"data": {"values": [{}]}, "mark": {"type": "text", "align": "right", "baseline": "alphabetic", "font": "Liberation Serif", "fontWeight": "bold", "fontSize": 42, "color": "black", "dx": -184},
 "encoding": {"x": {"datum": 2.1, "type": "quantitative"}, "y": {"datum": -211.5, "type": "quantitative"}, "text": {"value": "M"}}}
]},
{"mark": {"type": "point", "opacity": 0},
 "encoding": {"x": {"field": "m", "type": "quantitative", "scale": {"domain": [1.6, 2.1], "nice": false, "zero": false}, "axis": {"orient": "top", "values": [1.6,1.7,1.8,1.9,2.0,2.1], "labels": false, "tickSize": -17.7, "title": null}},
  "y": {"field": "v", "type": "quantitative", "scale": {"domain": [-57, 1047], "nice": false, "zero": false}, "axis": {"orient": "right", "values": [0, 500, 1000], "labels": false, "tickSize": -33, "title": null}}}},
{"mark": {"type": "point", "opacity": 0},
 "encoding": {"x": {"field": "m", "type": "quantitative", "scale": {"domain": [1.6, 2.1], "nice": false, "zero": false}, "axis": {"orient": "bottom", "values": [1.62,1.64,1.66,1.68,1.72,1.74,1.76,1.78,1.82,1.84,1.86,1.88,1.92,1.94,1.96,1.98,2.02,2.04,2.06,2.08], "labels": false, "tickSize": -8, "title": null}},
  "y": {"field": "v", "type": "quantitative", "scale": {"domain": [-57, 1047], "nice": false, "zero": false}, "axis": {"orient": "left", "values": [100,200,300,400,600,700,800,900], "labels": false, "tickSize": -17, "title": null}}}},
{"mark": {"type": "point", "opacity": 0},
 "encoding": {"x": {"field": "m", "type": "quantitative", "scale": {"domain": [1.6, 2.1], "nice": false, "zero": false}, "axis": {"orient": "top", "values": [1.62,1.64,1.66,1.68,1.72,1.74,1.76,1.78,1.82,1.84,1.86,1.88,1.92,1.94,1.96,1.98,2.02,2.04,2.06,2.08], "labels": false, "tickSize": -8, "title": null}},
  "y": {"field": "v", "type": "quantitative", "scale": {"domain": [-57, 1047], "nice": false, "zero": false}, "axis": {"orient": "right", "values": [100,200,300,400,600,700,800,900], "labels": false, "tickSize": -17, "title": null}}}}
]
},
{
"width": 959, "height": 618,
"data": {"name": "br"},
"resolve": {"axis": {"x": "independent", "y": "independent"}},
"layer": [
{"layer": [
{"mark": {"type": "point", "opacity": 0},
 "encoding": {
  "x": {"field": "m", "type": "quantitative", "scale": {"domain": [1.6, 2.1], "nice": false, "zero": false},
        "axis": {"orient": "bottom", "values": [1.6,1.7,1.8,1.9,2.0,2.1], "labels": true, "format": "~g", "tickSize": -17.7, "labelPadding": 22, "title": null}},
  "y": {"field": "v", "type": "quantitative", "title": "Counts (per 10 MeV/c²)", "scale": {"domain": [-108, 451], "nice": false, "zero": false},
        "axis": {"orient": "left", "values": [0, 200, 400], "tickSize": -33, "labelPadding": 44, "format": "d",
                 "title": "Counts (per 10 MeV/c²)", "titleX": -103, "titleY": -3, "titleAngle": -90, "titleAlign": "right", "titleBaseline": "alphabetic"}}
 }},
{"mark": {"type": "errorbar", "color": "#1a1aaa", "thickness": 3},
 "encoding": {"x": {"field": "m", "type": "quantitative"}, "y": {"field": "v", "type": "quantitative", "title": "Counts (per 10 MeV/c²)"}, "yError": {"field": "e"}}},
{"mark": {"type": "point", "filled": true, "size": 290, "opacity": 1, "clip": true},
 "encoding": {"x": {"field": "m", "type": "quantitative"}, "y": {"field": "v", "type": "quantitative", "title": "Counts (per 10 MeV/c²)"},
  "color": {"datum": "US - LS", "scale": {"domain": ["US - LS", "Fit"], "range": ["black", "red"]},
   "legend": {"orient": "none", "legendX": 45.5, "legendY": 35.8, "title": null, "padding": 0, "rowPadding": 9, "labelFont": "Liberation Serif", "labelFontWeight": "bold", "labelFontSize": 47, "labelColor": "black", "labelOffset": 36.5, "labelLimit": 600, "symbolSize": 900, "symbolStrokeWidth": 3,
    "encode": {"symbols": {"update": {
     "shape": {"signal": "(datum.value === 'Like Sign' || datum.value === 'Fit') ? 'M-2.3,0H2.3' : 'M-2.3,0H-0.62M0.62,0H2.3M0,-1.07V-0.62M0,0.62V1.07M0.62,0A0.62,0.62,0,1,1,-0.62,0A0.62,0.62,0,1,1,0.62,0Z'"},
     "fill": {"signal": "(datum.value === 'Like Sign' || datum.value === 'Fit') ? 'transparent' : 'black'"},
     "stroke": {"signal": "(datum.value === 'Like Sign' || datum.value === 'Fit') ? 'red' : '#1a1aaa'"},
     "strokeWidth": {"signal": "datum.value === 'Fit' ? 6 : 3"},
     "size": {"value": 900}, "opacity": {"value": 1}}}}}}}},
{"data": {"name": "brfit"}, "mark": {"type": "line", "strokeWidth": 5, "interpolate": "monotone", "clip": true},
 "encoding": {"x": {"field": "m", "type": "quantitative"}, "y": {"field": "f", "type": "quantitative", "title": "Counts (per 10 MeV/c²)"},
  "color": {"datum": "Fit", "scale": {"domain": ["US - LS", "Fit"], "range": ["black", "red"]},
   "legend": {"orient": "none", "legendX": 45.5, "legendY": 35.8, "title": null, "padding": 0, "rowPadding": 9, "labelFont": "Liberation Serif", "labelFontWeight": "bold", "labelFontSize": 47, "labelColor": "black", "labelOffset": 36.5, "labelLimit": 600, "symbolSize": 900, "symbolStrokeWidth": 3,
    "encode": {"symbols": {"update": {
     "shape": {"signal": "(datum.value === 'Like Sign' || datum.value === 'Fit') ? 'M-2.3,0H2.3' : 'M-2.3,0H-0.62M0.62,0H2.3M0,-1.07V-0.62M0,0.62V1.07M0.62,0A0.62,0.62,0,1,1,-0.62,0A0.62,0.62,0,1,1,0.62,0Z'"},
     "fill": {"signal": "(datum.value === 'Like Sign' || datum.value === 'Fit') ? 'transparent' : 'black'"},
     "stroke": {"signal": "(datum.value === 'Like Sign' || datum.value === 'Fit') ? 'red' : '#1a1aaa'"},
     "strokeWidth": {"signal": "datum.value === 'Fit' ? 6 : 3"},
     "size": {"value": 900}, "opacity": {"value": 1}}}}}}}},
{"data": {"values": [{}]}, "mark": {"type": "text", "align": "left", "baseline": "alphabetic", "font": "Liberation Serif", "fontWeight": "bold", "fontSize": 41, "color": "#0000ff"},
 "encoding": {"x": {"datum": 1.847, "type": "quantitative"}, "y": {"datum": 388.8, "type": "quantitative"}, "text": {"value": "RawYield = 810 \u00a0± 130"}}},
{"data": {"values": [{}]}, "mark": {"type": "text", "align": "right", "baseline": "alphabetic", "font": "Liberation Serif", "fontWeight": "bold", "fontSize": 40, "color": "black", "dx": -2},
 "encoding": {"x": {"datum": 2.1, "type": "quantitative"}, "y": {"datum": -186.2, "type": "quantitative"}, "text": {"value": "(GeV/c²)"}}},
{"data": {"values": [{}]}, "mark": {"type": "text", "align": "right", "baseline": "alphabetic", "font": "Liberation Serif", "fontWeight": "bold", "fontSize": 25, "color": "black", "dx": -155, "dy": 11},
 "encoding": {"x": {"datum": 2.1, "type": "quantitative"}, "y": {"datum": -186.2, "type": "quantitative"}, "text": {"value": "Kπ"}}},
{"data": {"values": [{}]}, "mark": {"type": "text", "align": "right", "baseline": "alphabetic", "font": "Liberation Serif", "fontWeight": "bold", "fontSize": 42, "color": "black", "dx": -184},
 "encoding": {"x": {"datum": 2.1, "type": "quantitative"}, "y": {"datum": -186.2, "type": "quantitative"}, "text": {"value": "M"}}}
]},
{"mark": {"type": "point", "opacity": 0},
 "encoding": {"x": {"field": "m", "type": "quantitative", "scale": {"domain": [1.6, 2.1], "nice": false, "zero": false}, "axis": {"orient": "top", "values": [1.6,1.7,1.8,1.9,2.0,2.1], "labels": false, "tickSize": -17.7, "title": null}},
  "y": {"field": "v", "type": "quantitative", "scale": {"domain": [-108, 451], "nice": false, "zero": false}, "axis": {"orient": "right", "values": [0, 200, 400], "labels": false, "tickSize": -33, "title": null}}}},
{"mark": {"type": "point", "opacity": 0},
 "encoding": {"x": {"field": "m", "type": "quantitative", "scale": {"domain": [1.6, 2.1], "nice": false, "zero": false}, "axis": {"orient": "bottom", "values": [1.62,1.64,1.66,1.68,1.72,1.74,1.76,1.78,1.82,1.84,1.86,1.88,1.92,1.94,1.96,1.98,2.02,2.04,2.06,2.08], "labels": false, "tickSize": -8, "title": null}},
  "y": {"field": "v", "type": "quantitative", "scale": {"domain": [-108, 451], "nice": false, "zero": false}, "axis": {"orient": "left", "values": [-100,-50,50,100,150,250,300,350], "labels": false, "tickSize": -17, "title": null}}}},
{"mark": {"type": "point", "opacity": 0},
 "encoding": {"x": {"field": "m", "type": "quantitative", "scale": {"domain": [1.6, 2.1], "nice": false, "zero": false}, "axis": {"orient": "top", "values": [1.62,1.64,1.66,1.68,1.72,1.74,1.76,1.78,1.82,1.84,1.86,1.88,1.92,1.94,1.96,1.98,2.02,2.04,2.06,2.08], "labels": false, "tickSize": -8, "title": null}},
  "y": {"field": "v", "type": "quantitative", "scale": {"domain": [-108, 451], "nice": false, "zero": false}, "axis": {"orient": "right", "values": [-100,-50,50,100,150,250,300,350], "labels": false, "tickSize": -17, "title": null}}}}
]
}
],
"config": {
 "view": {"stroke": "black", "strokeWidth": 2},
 "axis": {"grid": false, "domain": false, "tickColor": "black", "tickWidth": 2, "labelColor": "black", "labelFont": "Liberation Serif", "labelFontWeight": "bold", "labelFontSize": 38, "labelFlush": false, "labelOverlap": false, "titleColor": "black", "titleFont": "Liberation Serif", "titleFontWeight": "bold", "titleFontSize": 42}
}
}
